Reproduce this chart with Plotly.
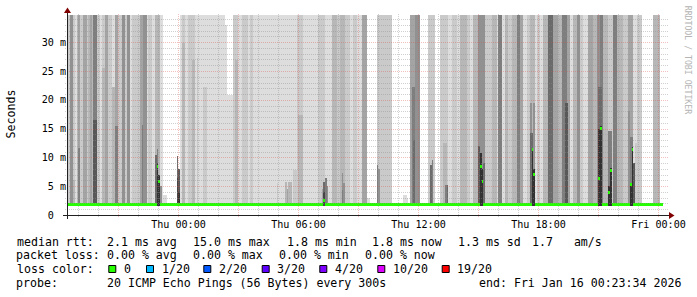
import math
from datetime import datetime, timedelta
import plotly.graph_objects as go

# ---------------- data ----------------
STEP0 = datetime(2026, 1, 14, 18, 20)          # start of first 300 s step
STEP_SECONDS = 300
N_STEPS = 359
VIEW_START = datetime(2026, 1, 14, 18, 25, 30)
VIEW_HOURS = 30
Y_MAX_MS = 34.72

# (first step, last step, number of smoke bands reaching past the top of the chart)
FULL_RUNS = [
    (0, 0, 5), (1, 2, 2), (3, 4, 5), (5, 5, 2), (6, 6, 1), (7, 7, 3), (8, 8, 4), (9, 10, 2),
    (11, 12, 4), (13, 13, 2), (14, 14, 3), (15, 15, 4), (16, 16, 3), (17, 18, 6), (19, 20, 2),
    (21, 21, 1), (22, 23, 2), (24, 25, 4), (26, 27, 2), (28, 29, 1), (30, 31, 4), (32, 33, 2),
    (34, 35, 5), (36, 36, 2), (37, 38, 5), (39, 39, 1), (40, 44, 2), (45, 46, 4), (47, 48, 5),
    (49, 49, 1), (50, 51, 2), (52, 53, 1), (54, 56, 3), (57, 58, 1), (59, 68, 0), (69, 69, 1),
    (70, 71, 2), (72, 73, 1), (74, 77, 2), (78, 95, 1), (96, 100, 0), (101, 103, 2), (104, 105, 1),
    (106, 109, 2), (110, 110, 1), (111, 112, 2), (113, 138, 1), (139, 142, 2), (143, 151, 1),
    (152, 155, 2), (156, 159, 1), (160, 162, 3), (163, 164, 2), (165, 167, 3), (168, 170, 2),
    (171, 172, 1), (173, 174, 2), (175, 177, 1), (178, 180, 4), (181, 186, 0), (187, 195, 2),
    (196, 206, 0), (207, 209, 4), (210, 212, 5), (213, 217, 0), (218, 221, 2), (222, 224, 0),
    (225, 229, 2), (230, 231, 1), (232, 234, 2), (235, 236, 1), (237, 240, 3), (241, 242, 2),
    (243, 244, 1), (245, 247, 3), (248, 251, 5), (252, 255, 2), (256, 258, 3), (259, 259, 1),
    (260, 261, 6), (262, 263, 1), (264, 265, 3), (266, 267, 2), (268, 270, 3), (271, 272, 6),
    (273, 274, 4), (275, 276, 1), (277, 278, 2), (279, 281, 3), (282, 282, 1), (283, 284, 2),
    (285, 286, 1), (287, 289, 3), (290, 292, 7), (293, 295, 4), (296, 297, 3), (298, 300, 6),
    (301, 302, 4), (303, 304, 1), (305, 306, 3), (307, 308, 5), (309, 310, 2), (311, 313, 1),
    (314, 316, 4), (317, 318, 3), (319, 320, 5), (321, 322, 6), (323, 325, 3), (326, 328, 2),
    (329, 330, 6), (331, 334, 3), (335, 337, 2), (338, 340, 4), (341, 342, 1), (343, 345, 2),
    (346, 352, 0), (353, 356, 3), (357, 358, 0),
]

# (step, smoke band, top of that band in ms) for bands that end inside the chart
PARTIALS = [
    (5, 3, 6.1), (8, 6, 11.6), (17, 8, 16.5), (18, 8, 16.5), (22, 3, 25.5), (23, 3, 25.5),
    (28, 3, 22.3), (29, 3, 22.3), (30, 6, 15.4), (31, 6, 15.4), (46, 6, 15.6),
    (54, 7, 10.5), (55, 6, 11.5), (55, 10, 9.0), (56, 10, 7.0), (57, 5, 5.0),
    (59, 1, 3.5), (60, 1, 3.5),
    (67, 7, 10.2), (67, 9, 6.5), (68, 8, 8.0), (68, 10, 4.0),
    (70, 3, 29.8), (71, 3, 29.8), (76, 3, 26.9), (77, 3, 26.9), (79, 2, 27.2), (83, 2, 22.3), (84, 2, 22.3),
    (96, 1, 33.0), (97, 1, 20.8), (98, 1, 20.8), (99, 1, 20.8), (100, 1, 20.8),
    (102, 3, 26.9), (103, 3, 26.9),
    (127, 2, 5.5), (132, 3, 5.8), (133, 4, 4.5), (134, 3, 5.8), (135, 3, 5.8), (137, 2, 7.8), (138, 2, 7.8),
    (140, 3, 17.4), (141, 3, 17.4), (142, 3, 17.4),
    (154, 4, 4.5), (155, 9, 4.0), (155, 7, 5.8), (156, 6, 6.5), (157, 5, 5.0),
    (166, 5, 7.3), (166, 6, 4.4), (167, 5, 5.5),
    (181, 1, 3.0), (182, 1, 3.0), (187, 6, 8.7), (188, 5, 8.0),
    (203, 1, 3.5), (204, 1, 3.5), (205, 1, 3.0),
    (208, 6, 22.3), (209, 6, 22.3), (209, 7, 13.0), (211, 5, 17.0), (212, 5, 17.0),
    (219, 7, 8.7), (220, 6, 9.5),
    (227, 3, 12.5), (228, 3, 12.5), (228, 6, 5.2), (229, 7, 5.2),
    (248, 8, 12.0), (249, 10, 10.7), (250, 10, 8.0), (251, 7, 9.0),
    (279, 7, 14.2), (279, 5, 19.4), (280, 10, 11.5), (280, 7, 14.2), (281, 10, 8.0), (281, 5, 19.4),
    (300, 8, 19.4), (301, 8, 19.4),
    (320, 10, 15.0), (320, 7, 22.3), (321, 10, 15.5), (321, 7, 22.3), (322, 6, 20.0),
    (326, 10, 5.0), (326, 6, 14.5), (327, 10, 8.2), (327, 6, 14.5),
    (338, 5, 18.0), (339, 10, 5.5), (339, 6, 13.6), (340, 10, 11.8), (340, 6, 13.6), (341, 8, 9.0),
    (342, 2, 12.5),
]

MEDIAN_MS = 1.82
MEDIAN_SPIKES = [(55, 8.5), (56, 5.8), (155, 2.6), (249, 8.5), (250, 5.8), (280, 11.3), (281, 7.0),
                 (320, 6.4), (321, 15.1), (326, 3.9), (327, 7.7), (339, 5.3), (340, 11.3)]
SMOKE_FLOOR_MS = 1.6
MEDIAN_HALF_MS = 0.26

X_TICKS = ["2026-01-15 00:00", "2026-01-15 06:00", "2026-01-15 12:00", "2026-01-15 18:00", "2026-01-16 00:00"]
X_TICK_TEXT = ["Thu 00:00", "Thu 06:00", "Thu 12:00", "Thu 18:00", "Fri 00:00"]
Y_TICKS = [0, 5, 10, 15, 20, 25, 30]
Y_TICK_TEXT = ["0\u00a0\u00a0", "5 m", "10 m", "15 m", "20 m", "25 m", "30 m"]

LOSS_LABELS = ["0", "1/20", "2/20", "3/20", "4/20", "10/20", "19/20"]
LOSS_COLORS = ["#26ff00", "#00b8ff", "#0059ff", "#5e00ff", "#7e00ff", "#dd00ff", "#ff0000"]

LEGEND_ROWS = [
    ["median rtt:", "2.1 ms avg", "15.0 ms max", "1.8 ms min", "1.8 ms now", "1.3 ms sd", "1.7   am/s"],
    ["packet loss:", "0.00 % avg", "0.00 % max", "0.00 % min", "0.00 % now"],
    ["probe:", "20 ICMP Echo Pings (56 Bytes) every 300s", "end: Fri Jan 16 00:23:34 2026"],
]

# ---------------- layout geometry ----------------
W, H = 697, 297
L0, T0, PW, PH = 67, 15, 600, 200
MONO = "DejaVu Sans Mono"
VIEW_END = VIEW_START + timedelta(hours=VIEW_HOURS)
SEC_PER_PX = VIEW_HOURS * 3600 / PW
PX_PER_MS = PH / Y_MAX_MS


def px_x(px):
    return (px - L0) / PW


def px_y(py):
    return (T0 + PH - py) / PH


# ---------------- build smoke per step ----------------
full = [0] * N_STEPS
for a, b, lev in FULL_RUNS:
    for k in range(a, b + 1):
        full[k] = lev
tops = [[None] * 11 for _ in range(N_STEPS)]
for k in range(N_STEPS):
    for j in range(1, full[k] + 1):
        tops[k][j] = 1e9
for k, lev, h in PARTIALS:
    for j in range(1, lev + 1):
        tops[k][j] = h if tops[k][j] is None else max(tops[k][j], h)
median = [MEDIAN_MS] * N_STEPS
for k, m in MEDIAN_SPIKES:
    median[k] = m

xs = [VIEW_START + timedelta(seconds=(c + 0.5) * SEC_PER_PX) for c in range(PW)]
ys = [(r + 0.5) / PX_PER_MS for r in range(PH)]
z = []
for y in ys:
    row = []
    for t in xs:
        k = math.floor((t - STEP0).total_seconds() / STEP_SECONDS)
        if k < 0 or k >= N_STEPS:
            row.append(None)
            continue
        if abs(y - median[k]) <= MEDIAN_HALF_MS:
            row.append(11)
            continue
        val = None
        if y >= SMOKE_FLOOR_MS:
            for j in range(10, 0, -1):
                if tops[k][j] is not None and tops[k][j] >= y:
                    val = j
                    break
        row.append(val)
    z.append(row)

colors = []
for lev in range(1, 11):
    g = int(190 / 10 * (10 - lev)) + 50
    colors.append("#%02x%02x%02x" % (g, g, g))
colors.append(LOSS_COLORS[0])
cscale = []
for i, c in enumerate(colors):
    cscale.append([i / 11, c])
    cscale.append([(i + 1) / 11, c])

fig = go.Figure(go.Heatmap(x=xs, y=ys, z=z, zmin=0.5, zmax=11.5, colorscale=cscale,
                           showscale=False, zsmooth=False, hoverinfo="skip"))

# ---------------- grid (drawn over the data, like rrdtool) ----------------
GRID = "rgba(143,143,143,0.42)"
MGRID = "rgba(222,79,79,0.36)"
shapes = []
for v in range(1, int(Y_MAX_MS) + 1):
    row = round(T0 + PH - v * PX_PER_MS)
    yv = (T0 + PH - (row + 0.5)) / PX_PER_MS
    shapes.append(dict(type="line", xref="paper", yref="y", x0=px_x(L0 - 2), x1=px_x(L0 + PW + 2),
                       y0=yv, y1=yv, line=dict(color=MGRID if v % 5 == 0 else GRID, width=1, dash="1px,1px"),
                       layer="above"))
h = VIEW_START.replace(minute=0, second=0) + timedelta(hours=1)
while h < VIEW_END:
    shapes.append(dict(type="line", xref="x", yref="paper", x0=h, x1=h, y0=px_y(T0 + PH + 2), y1=px_y(T0 - 2),
                       line=dict(color=MGRID if h.hour % 3 == 0 else GRID, width=1, dash="1px,1px"),
                       layer="above"))
    h += timedelta(hours=1)

AXIS = "#212121"
ARROW = "#800000"
shapes.append(dict(type="line", xref="paper", yref="paper", x0=px_x(L0 - 4), x1=px_x(L0 + PW + 4),
                   y0=px_y(T0 + PH + 0.5), y1=px_y(T0 + PH + 0.5), line=dict(color=AXIS, width=1), layer="above"))
shapes.append(dict(type="line", xref="paper", yref="paper", x0=px_x(L0 + 0.5), x1=px_x(L0 + 0.5),
                   y0=px_y(T0 + PH + 4), y1=px_y(T0 - 4), line=dict(color=AXIS, width=1), layer="above"))


def tri(pts):
    return "M " + " L ".join("%f,%f" % (px_x(a), px_y(b)) for a, b in pts) + " Z"


shapes.append(dict(type="path", xref="paper", yref="paper", path=tri([(L0 + PW + 2, 212), (L0 + PW + 2, 219), (L0 + PW + 7.5, 215.5)]),
                   fillcolor=ARROW, line=dict(width=0), layer="above"))
shapes.append(dict(type="path", xref="paper", yref="paper", path=tri([(64, 13), (71, 13), (67.5, 7.5)]),
                   fillcolor=ARROW, line=dict(width=0), layer="above"))

# ---------------- legend text ----------------
FS = 11.6
ann = []


def text(px, py, s, size=FS, color="#000000", anchor="left", angle=0):
    ann.append(dict(xref="paper", yref="paper", x=px_x(px), y=px_y(py), text=s, showarrow=False,
                    xanchor=anchor, yanchor="middle", borderpad=0, textangle=angle,
                    font=dict(family=MONO, size=size, color=color)))


row_y = [241.7, 255.0, 269.0, 282.7]
row1_x = [15.5, 106.4, 192.2, 285.6, 370.6, 457.2, 530.6]
row2_x = [15.2, 106.4, 192.4, 278.4, 364.1]
row4_x = [15.2, 106.4, 477.6]
for s, x in zip(LEGEND_ROWS[0], row1_x):
    text(x, row_y[0], s)
for s, x in zip(LEGEND_ROWS[1], row2_x):
    text(x, row_y[1], s)
for s, x in zip(LEGEND_ROWS[2], row4_x):
    text(x, row_y[3], s)
text(15.5, row_y[2], "loss color:")
sq_x = [108.3, 146.0, 203.3, 261.7, 319.3, 377.3, 441.7]
for sx, lab, col in zip(sq_x, LOSS_LABELS, LOSS_COLORS):
    shapes.append(dict(type="rect", xref="paper", yref="paper", x0=px_x(sx + 0.5), x1=px_x(sx + 7.5),
                       y0=px_y(265.5), y1=px_y(272.5), fillcolor=col, line=dict(color="#000000", width=1)))
    text(sx + 14.6, row_y[2], lab)

text(10.5, 114, "Seconds", anchor="center", angle=-90)
text(688.3, 60, "RRDTOOL / TOBI OETIKER", size=8.2, color="#b4b4b4", anchor="center", angle=90)

fig.update_layout(
    width=W, height=H, autosize=False,
    margin=dict(l=L0, r=W - L0 - PW, t=T0, b=H - T0 - PH, pad=0),
    paper_bgcolor="#ffffff", plot_bgcolor="#ffffff",
    shapes=shapes, annotations=ann, showlegend=False,
    xaxis=dict(type="date", range=[VIEW_START, VIEW_END], showgrid=False, zeroline=False, showline=False,
               tickmode="array", tickvals=X_TICKS, ticktext=X_TICK_TEXT, ticks="", ticklabelstandoff=2,
               tickfont=dict(family=MONO, size=10.1, color="#000000")),
    yaxis=dict(range=[0, Y_MAX_MS], showgrid=False, zeroline=False, showline=False,
               tickmode="array", tickvals=Y_TICKS, ticktext=Y_TICK_TEXT, ticks="",
               tickfont=dict(family=MONO, size=10.1, color="#000000")),
)
fig.write_html("out.html")
